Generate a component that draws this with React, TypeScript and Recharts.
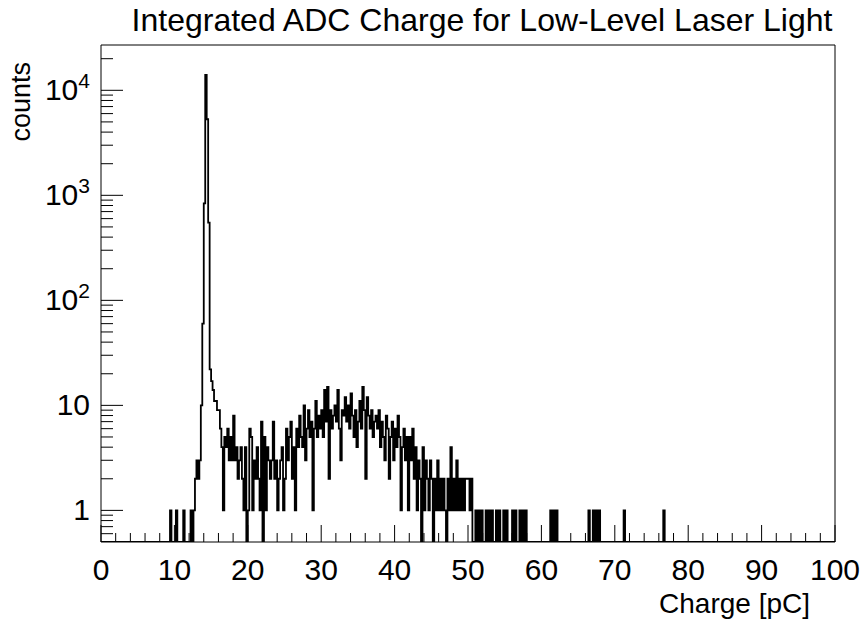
import React from "react";
import { Label, Line, LineChart, ReferenceLine, XAxis, YAxis } from "recharts";

// Histogram binning, pC
const binWidth = 0.2;
const xMax = 100;

// Isolated single counts below the pedestal and far out in the tail
const lowSingles = [9.4, 10.2, 11.2];
const tailSingles = [61.2, 61.6, 62.0, 66.4, 67.0, 67.4, 67.8, 71.2, 76.6];

// Pedestal peak, 12.0 .. 16.8 pC
const peakStart = 12.0;
const peakCounts = [
  0, 1, 0, 1, 2, // 12
  3, 2, 3, 10, 60, // 13
  840, 14000, 5300, 550, 22, // 14
  17, 14, 11, 11, 9, // 15
  9, 6, 4, 1, 5, // 16
];

// Single photo-electron bump and its tail, 17.0 .. 57.8 pC (one row per pC)
const bumpStart = 17.0;
const bumpCounts = [
  4, 6, 3, 5, 3, // 17
  8, 3, 4, 2, 3, // 18
  4, 2, 1, 4, 0, // 19
  1, 6, 5, 1, 3, // 20
  2, 4, 2, 1, 7, // 21
  0, 5, 1, 4, 3, // 22
  2, 3, 7, 2, 3, // 23
  1, 2, 3, 4, 1, // 24
  2, 6, 3, 5, 7, // 25
  2, 4, 1, 6, 4, // 26
  8, 5, 4, 10, 3, // 27
  6, 9, 5, 7, 1, // 28
  6, 11, 5, 8, 6, // 29
  9, 5, 14, 7, 15, // 30
  2, 9, 6, 8, 10, // 31
  7, 14, 6, 3, 9, // 32
  8, 12, 7, 10, 6, // 33
  13, 8, 5, 9, 4, // 34
  7, 11, 6, 15, 9, // 35
  2, 12, 8, 6, 9, // 36
  5, 7, 8, 6, 9, // 37
  4, 7, 5, 3, 8, // 38
  6, 2, 5, 7, 3, // 39
  6, 4, 8, 5, 1, // 40
  4, 6, 3, 5, 1, // 41
  5, 3, 6, 2, 4, // 42
  1, 3, 2, 0, 4, // 43
  1, 3, 2, 1, 3, // 44
  2, 0, 2, 1, 3, // 45
  1, 2, 1, 2, 1, // 46
  0, 2, 1, 4, 1, // 47
  2, 1, 3, 1, 2, // 48
  1, 2, 1, 2, 2, // 49
  2, 1, 2, 0, 0, // 50
  1, 0, 1, 0, 1, // 51
  0, 0, 1, 0, 1, // 52
  0, 1, 0, 0, 1, // 53
  0, 1, 0, 0, 1, // 54
  0, 1, 0, 0, 0, // 55
  1, 0, 1, 0, 0, // 56
  1, 0, 1, 0, 1, // 57
];

// Axis ticks
const xTicks = [0, 2, 4, 6, 8, 10, 12, 14, 16, 18, 20, 22, 24, 26, 28, 30, 32, 34, 36, 38, 40, 42, 44, 46, 48, 50, 52, 54, 56, 58, 60, 62, 64, 66, 68, 70, 72, 74, 76, 78, 80, 82, 84, 86, 88, 90, 92, 94, 96, 98, 100];
const xLabels = [0, 10, 20, 30, 40, 50, 60, 70, 80, 90, 100];
const yDecades = [1, 10, 100, 1000, 10000];
const yLabels = [
  { base: "1", sup: "" },
  { base: "10", sup: "" },
  { base: "10", sup: "2" },
  { base: "10", sup: "3" },
  { base: "10", sup: "4" },
];
const yDomain: [number, number] = [0.5, 27000];

const title = "Integrated ADC Charge for Low-Level Laser Light";
const xTitle = "Charge [pC]";
const yTitle = "counts";

const FONT = '"Liberation Sans", Arial, Helvetica, sans-serif';

// empty bins are drawn on the lower frame edge, as ROOT does on a log axis
const counts: number[] = new Array(Math.round(xMax / binWidth)).fill(0);
const put = (pc: number, v: number) => {
  counts[Math.round(pc / binWidth)] = v;
};
lowSingles.forEach((pc) => put(pc, 1));
peakCounts.forEach((v, i) => put(peakStart + i * binWidth, v));
bumpCounts.forEach((v, i) => put(bumpStart + i * binWidth, v));
tailSingles.forEach((pc) => put(pc, 1));

const table = counts.map((c, i) => ({
  charge: Math.round(i * binWidth * 10) / 10,
  counts: Math.max(c, yDomain[0]),
}));
table.push({ charge: xMax, counts: yDomain[0] });

const yTicks: number[] = [0.6, 0.7, 0.8, 0.9];
yDecades.forEach((d) => {
  for (let m = 1; m <= 9; m++) {
    const v = m * d;
    if (v <= yDomain[1]) yTicks.push(v);
  }
});

function XTick({ x, y, payload }: any) {
  const v = payload.value as number;
  const major = xLabels.includes(v);
  return (
    <g>
      <line x1={x} x2={x} y1={y} y2={y - (major ? 17 : 9)} stroke="#000" strokeWidth={1} />
      {major && (
        <text x={x} y={y + 38} textAnchor="middle" fontSize={30} fontFamily={FONT} fill="#000">
          {v}
        </text>
      )}
    </g>
  );
}

function YTick({ x, y, payload }: any) {
  const v = payload.value as number;
  const idx = yDecades.findIndex((d) => Math.abs(d - v) < 1e-6 * d);
  const major = idx >= 0;
  const lab = major ? yLabels[idx] : null;
  return (
    <g>
      <line x1={x} x2={x + (major ? 22 : 12)} y1={y} y2={y} stroke="#000" strokeWidth={1} />
      {lab && (
        <text x={x - 11} y={y + 10} textAnchor="end" fontSize={30} fontFamily={FONT} fill="#000">
          <tspan>{lab.base}</tspan>
          {lab.sup && (
            <tspan dy={-12} fontSize={21}>
              {lab.sup}
            </tspan>
          )}
        </text>
      )}
    </g>
  );
}

function Titles() {
  return (
    <g>
      <text x={482} y={31} textAnchor="middle" fontSize={32} fontFamily={FONT} fill="#000">
        {title}
      </text>
      <text x={810} y={613} textAnchor="end" fontSize={28} fontFamily={FONT} fill="#000">
        {xTitle}
      </text>
    </g>
  );
}

export default function App() {
  return (
    <div style={{ position: "absolute", left: 0, top: 0, width: 864, height: 628, background: "#fff" }}>
      <LineChart width={864} height={628} data={table} margin={{ top: 45, right: 29, bottom: 0, left: 0 }}>
        <XAxis
          dataKey="charge"
          type="number"
          domain={[0, xMax]}
          ticks={xTicks}
          interval={0}
          tick={<XTick />}
          tickSize={0}
          tickMargin={0}
          tickLine={false}
          axisLine={{ stroke: "#000", strokeWidth: 1 }}
          height={86}
        >
          <Label content={() => <Titles />} />
        </XAxis>
        <YAxis
          type="number"
          scale="log"
          domain={yDomain}
          allowDataOverflow
          ticks={yTicks}
          interval={0}
          tick={<YTick />}
          tickSize={0}
          tickMargin={0}
          tickLine={false}
          axisLine={{ stroke: "#000", strokeWidth: 1 }}
          width={101}
        >
          <Label
            content={() => (
              <text
                x={30}
                y={62}
                transform="rotate(-90 30 62)"
                textAnchor="end"
                fontSize={27}
                fontFamily={FONT}
                fill="#000"
              >
                {yTitle}
              </text>
            )}
          />
        </YAxis>
        {/* frame top and right edges */}
        <ReferenceLine y={yDomain[1]} stroke="#000" strokeWidth={1} ifOverflow="visible" />
        <ReferenceLine x={xMax} stroke="#000" strokeWidth={1} ifOverflow="visible" />
        <Line
          dataKey="counts"
          type="stepAfter"
          stroke="#000"
          strokeWidth={1.8}
          dot={false}
          activeDot={false}
          isAnimationActive={false}
        />
      </LineChart>
    </div>
  );
}
